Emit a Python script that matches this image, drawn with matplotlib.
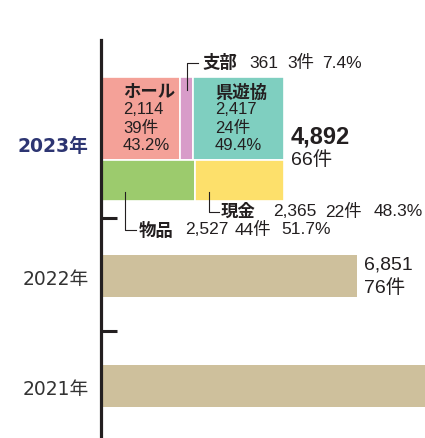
import matplotlib
matplotlib.use("Agg")
import matplotlib.pyplot as plt

plt.rcParams['font.family'] = ['Liberation Sans', 'Noto Sans CJK JP']

# ---- data ----
years = ["2023年", "2022年", "2021年"]
totals = [4892, 6851, 9600]   # 2021 is cut off at the right edge
counts = [66, 76, None]

top_names = ["ホール", "支部", "県遊協"]
top_values = [2114, 361, 2417]
top_counts = [39, 3, 24]
top_pcts = [43.2, 7.4, 49.4]
top_colors = ["#f4a198", "#d89cc9", "#7fcfc0"]

bottom_names = ["物品", "現金"]
bottom_values = [2527, 2365]
bottom_counts = [44, 22]
bottom_pcts = [51.7, 48.3]
bottom_colors = ["#9ccb6d", "#fde06b"]

past_color = "#cec09c"
ink = "#231f20"

# ---- layout (pixel units, y grows downward) ----
W, H = 425, 438
axis_px = 101
px_per_unit = 256 / 6851
x_max = (W - axis_px) / px_per_unit

def px2x(px):
    return (px - axis_px) / px_per_unit

fig = plt.figure(figsize=(W / 100, H / 100), dpi=100)
ax = fig.add_axes([axis_px / W, 0, 1 - axis_px / W, (H - 40) / H])
ax.set_xlim(0, x_max)
ax.set_ylim(H, 40)

# 2023 stacked rows
left = 0
for v, c in zip(top_values, top_colors):
    ax.barh(118.5, v, left=left, height=83, color=c, edgecolor="white", linewidth=1.2)
    left += v
left = 0
for v, c in zip(bottom_values, bottom_colors):
    ax.barh(180.5, v, left=left, height=41, color=c, edgecolor="white", linewidth=1.2)
    left += v

# 2022 / 2021 bars
ax.barh([276, 386], totals[1:], height=42, color=past_color)

# axis styling
for s in ["top", "right", "bottom"]:
    ax.spines[s].set_visible(False)
ax.spines["left"].set_linewidth(2.3)
ax.spines["left"].set_color(ink)
ax.set_xticks([])
ax.set_yticks([145, 277, 387])
ax.set_yticklabels(years, family=['DejaVu Sans', 'Noto Sans CJK JP'])
ax.tick_params(axis="y", which="major", length=0, pad=9, labelsize=13.5, labelcolor="#333333")
ticklabels = ax.get_yticklabels()
ticklabels[0].set_color("#2d3572")
ticklabels[0].set_fontweight("bold")
ax.set_yticks([218, 331], minor=True)
ax.tick_params(axis="y", which="minor", direction="in", length=11.5, width=2.2, color=ink)

fs_in = 12
fs = 12.5

# labels inside the top row
for name_i, px in [(0, 123), (2, 215)]:
    tx = px2x(px)
    ax.text(tx, 92, top_names[name_i], fontsize=fs, fontweight="bold", color=ink, va="center")
    ax.text(tx, 110, f"{top_values[name_i]:,}", fontsize=fs_in, color=ink, va="center")
    ax.text(tx, 128, f"{top_counts[name_i]}件", fontsize=fs_in, color=ink, va="center")
    ax.text(tx, 146, f"{top_pcts[name_i]}%", fontsize=fs_in, color=ink, va="center")

def callout(y, name, value, count, pct, xs):
    ax.text(px2x(xs[0]), y, name, fontsize=fs, fontweight="bold", color=ink, va="center")
    for txt, px in zip([f"{value:,}", f"{count}件", f"{pct}%"], xs[1:]):
        ax.text(px2x(px), y, txt, fontsize=fs, color=ink, va="center")

# leader lines
lw = 0.8
bx = top_values[0] + top_values[1] / 2
ax.plot([bx, bx, px2x(198)], [90, 63, 63], color=ink, lw=lw, clip_on=False)
callout(63, top_names[1], top_values[1], top_counts[1], top_pcts[1], [202, 249, 287, 322])

cx = px2x(209)
ax.plot([cx, cx, px2x(219)], [192, 212, 212], color=ink, lw=lw)
callout(212, bottom_names[1], bottom_values[1], bottom_counts[1], bottom_pcts[1], [221, 273, 325, 374])

gx = px2x(125)
ax.plot([gx, gx, px2x(136)], [192, 230, 230], color=ink, lw=lw)
callout(230, bottom_names[0], bottom_values[0], bottom_counts[0], bottom_pcts[0], [139, 185, 235, 281])

# totals
ax.text(totals[0] + px2x(108), 137, f"{totals[0]:,}", fontsize=17, fontweight="bold", color=ink, va="center")
ax.text(totals[0] + px2x(108), 160, f"{counts[0]}件", fontsize=14, color=ink, va="center")
ax.text(totals[1] + px2x(108), 265, f"{totals[1]:,}", fontsize=14, color=ink, va="center")
ax.text(totals[1] + px2x(108), 288, f"{counts[1]}件", fontsize=14, color=ink, va="center")

fig.savefig("out.png", dpi=100)
